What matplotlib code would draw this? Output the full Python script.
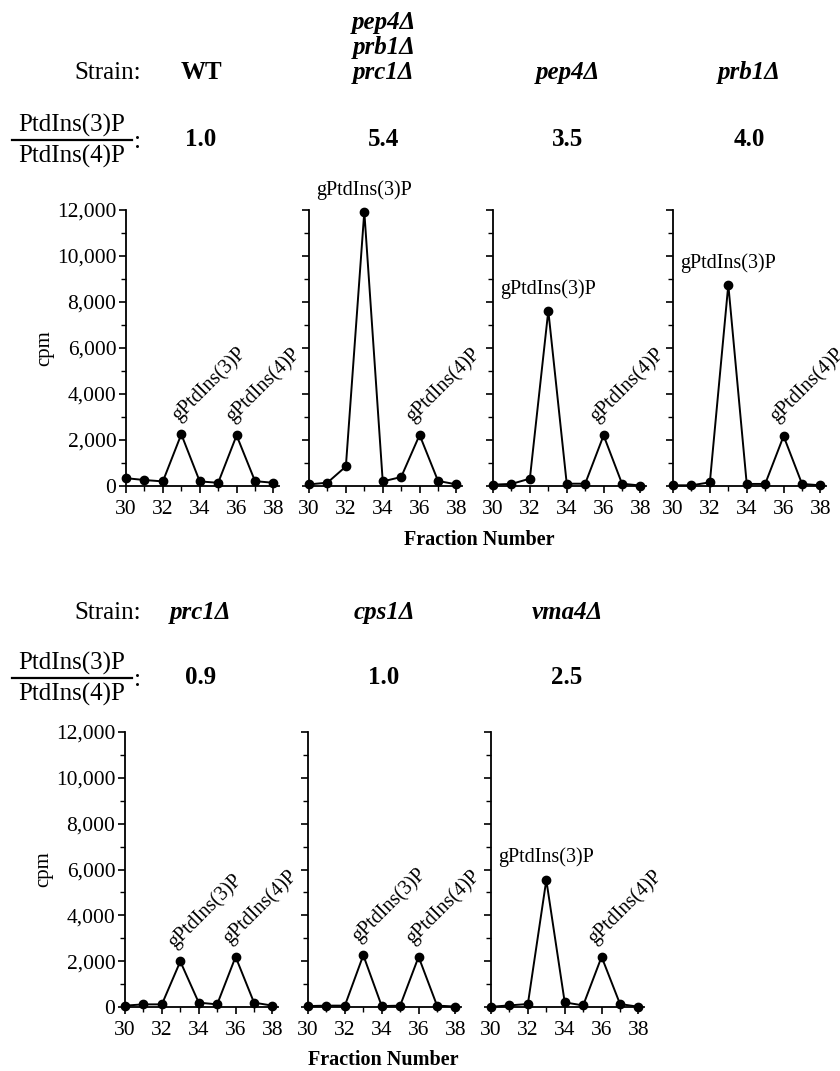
import matplotlib
matplotlib.use("Agg")
import matplotlib.pyplot as plt
from matplotlib.lines import Line2D
from matplotlib.ticker import MultipleLocator, FuncFormatter

plt.rcParams['font.family'] = ['Liberation Serif', 'DejaVu Serif']

fractions = [30, 31, 32, 33, 34, 35, 36, 37, 38]

# top row
wt = [340, 260, 200, 2250, 200, 140, 2200, 210, 140]
pep4_prb1_prc1 = [70, 145, 850, 11930, 200, 390, 2220, 220, 70]
pep4 = [60, 90, 320, 7620, 100, 100, 2200, 100, 20]
prb1 = [30, 30, 160, 8750, 90, 90, 2170, 90, 30]
# bottom row
prc1 = [60, 115, 115, 1990, 190, 115, 2190, 190, 60]
cps1 = [40, 60, 60, 2260, 40, 60, 2190, 60, 20]
vma4 = [10, 70, 130, 5540, 200, 70, 2190, 130, 10]

top_names = ["WT", "pep4\u0394\nprb1\u0394\nprc1\u0394", "pep4\u0394", "prb1\u0394"]
top_ratios = ["1.0", "5.4", "3.5", "4.0"]
bot_names = ["prc1\u0394", "cps1\u0394", "vma4\u0394"]
bot_ratios = ["0.9", "1.0", "2.5"]

W, H = 840, 1071
fig = plt.figure(figsize=(W / 100, H / 100), dpi=100)


def px(x, y):
    return x / W, 1 - y / H


def make_ax(left, top, bottom, first):
    ax = fig.add_axes([left / W, 1 - bottom / H, 153 / W, (bottom - top) / H])
    ax.set_xlim(30, 38.3)
    ax.set_ylim(0, 12000)
    for s in ["top", "right"]:
        ax.spines[s].set_visible(False)
    ax.spines["left"].set_linewidth(1.3)
    ax.spines["bottom"].set_linewidth(1.3)
    ax.xaxis.set_major_locator(MultipleLocator(2))
    ax.xaxis.set_minor_locator(MultipleLocator(1))
    ax.yaxis.set_major_locator(MultipleLocator(2000))
    ax.yaxis.set_minor_locator(MultipleLocator(1000))
    ax.tick_params(which="major", direction="out", length=5, width=1.2, labelsize=15.5)
    ax.tick_params(axis="x", which="major", pad=5)
    ax.tick_params(axis="y", which="major", pad=2)
    ax.tick_params(which="minor", direction="out", length=3.5, width=1.0)
    ax.yaxis.set_major_formatter(FuncFormatter(lambda v, p: f"{int(v):,}"))
    if not first:
        ax.set_yticklabels([])
    else:
        ax.set_ylabel("cpm", fontsize=15, labelpad=2)
    return ax


def draw(ax, vals):
    ax.plot(fractions, vals, color="black", lw=1.4, marker="o", ms=6, clip_on=False, zorder=3)


def tilted(ax, x, y, s):
    ax.text(x, y, s, rotation=45, rotation_mode="anchor", ha="left", va="baseline",
            fontsize=14.5, clip_on=False)


def flat(ax, x, y, s):
    ax.text(x, y, s, ha="center", va="bottom", fontsize=14.5, clip_on=False)


def header(y_name, y_ratio, xs, names, ratios):
    fig.text(*px(141, y_name), "Strain:", ha="right", va="baseline", fontsize=18)
    for x, n, r in zip(xs, names, ratios):
        if n == "WT":
            fig.text(*px(x, y_name), n, ha="center", va="baseline", fontsize=18, weight="bold")
        else:
            fig.text(*px(x, y_name), n, ha="center", va="baseline", fontsize=18,
                     weight="bold", style="italic", linespacing=1.1, multialignment="center")
        fig.text(*px(x, y_ratio), r, ha="center", va="center", fontsize=18, weight="bold")
    # PtdIns(3)P over PtdIns(4)P
    fig.text(*px(72, y_ratio - 15), "PtdIns(3)P", ha="center", va="center", fontsize=18)
    fig.text(*px(72, y_ratio + 16), "PtdIns(4)P", ha="center", va="center", fontsize=18)
    fig.add_artist(Line2D([12 / W, 132 / W], [1 - y_ratio / H] * 2, color="black", lw=1.6))
    fig.text(*px(134, y_ratio + 2), ":", ha="left", va="center", fontsize=18)


# top row
header(79, 140, [201, 384, 568, 749], top_names, top_ratios)
lefts_top = [126, 309, 493, 673]
axes_top = [make_ax(l, 210, 486, i == 0) for i, l in enumerate(lefts_top)]
for ax, vals in zip(axes_top, [wt, pep4_prb1_prc1, pep4, prb1]):
    draw(ax, vals)

tilted(axes_top[0], 32.85, 2800, "gPtdIns(3)P")
tilted(axes_top[0], 35.8, 2750, "gPtdIns(4)P")
flat(axes_top[1], 33.0, 12450, "gPtdIns(3)P")
tilted(axes_top[1], 35.6, 2750, "gPtdIns(4)P")
flat(axes_top[2], 33.0, 8150, "gPtdIns(3)P")
tilted(axes_top[2], 35.6, 2750, "gPtdIns(4)P")
flat(axes_top[3], 33.0, 9250, "gPtdIns(3)P")
tilted(axes_top[3], 35.6, 2750, "gPtdIns(4)P")
fig.text(*px(479, 540), "Fraction Number", ha="center", va="center", fontsize=14.5, weight="bold")

# bottom row
header(619, 678, [201, 384, 567], bot_names, bot_ratios)
lefts_bot = [125, 308, 491]
axes_bot = [make_ax(l, 732, 1007, i == 0) for i, l in enumerate(lefts_bot)]
for ax, vals in zip(axes_bot, [prc1, cps1, vma4]):
    draw(ax, vals)

tilted(axes_bot[0], 32.7, 2550, "gPtdIns(3)P")
tilted(axes_bot[0], 35.65, 2750, "gPtdIns(4)P")
tilted(axes_bot[1], 32.75, 2800, "gPtdIns(3)P")
tilted(axes_bot[1], 35.65, 2750, "gPtdIns(4)P")
flat(axes_bot[2], 33.0, 6100, "gPtdIns(3)P")
tilted(axes_bot[2], 35.6, 2750, "gPtdIns(4)P")
fig.text(*px(383, 1060), "Fraction Number", ha="center", va="center", fontsize=14.5, weight="bold")

fig.savefig("out.png", dpi=100, facecolor="white")
